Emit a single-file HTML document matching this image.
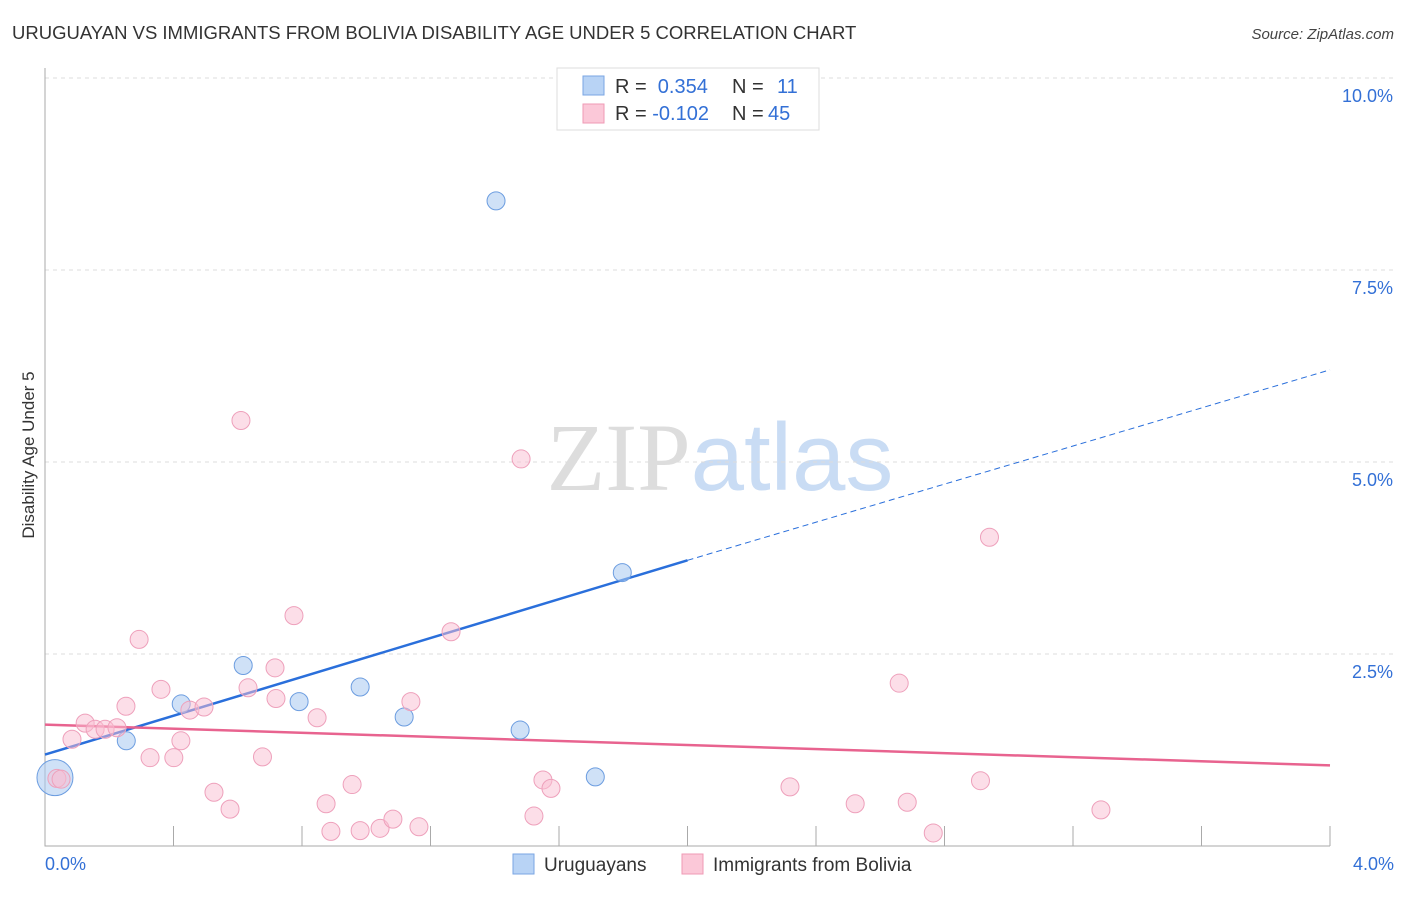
<!DOCTYPE html>
<html><head><meta charset="utf-8"><style>
body{margin:0;background:#fff;font-family:"Liberation Sans",sans-serif}
</style></head><body>
<svg id="chart" width="1406" height="892" xmlns="http://www.w3.org/2000/svg" font-family="Liberation Sans, sans-serif">
<text x="12" y="39" font-size="18.5" fill="#333">URUGUAYAN VS IMMIGRANTS FROM BOLIVIA DISABILITY AGE UNDER 5 CORRELATION CHART</text>
<text x="1394" y="39" font-size="15" fill="#444" text-anchor="end" font-style="italic">Source: ZipAtlas.com</text>
<text transform="translate(34,455) rotate(-90)" font-size="17" fill="#333" text-anchor="middle">Disability Age Under 5</text>
<text x="720" y="490" font-size="96" text-anchor="middle"><tspan fill="#ddd" font-family="Liberation Serif, serif">ZIP</tspan><tspan fill="#c9dcf4">atlas</tspan></text>
<g id="grid"></g><g id="axes"></g><g id="lines"></g><g id="pts"></g>
<g>
<rect x="557" y="68" width="262" height="62" fill="#fff" stroke="#ddd"/>
<rect x="583" y="76" width="21" height="19" fill="#b8d3f5" stroke="#7aa6e3"/>
<rect x="583" y="104" width="21" height="19" fill="#fbc8d8" stroke="#ef9ab5"/>
<text x="615" y="93" font-size="20" fill="#333">R = <tspan fill="#3370d6">&#160;0.354</tspan><tspan x="732">N = </tspan><tspan fill="#3370d6" x="777">11</tspan></text>
<text x="615" y="120" font-size="20" fill="#333">R = <tspan fill="#3370d6">-0.102</tspan><tspan x="732">N = </tspan><tspan fill="#3370d6" x="768">45</tspan></text>
</g>
<g>
<rect x="513" y="854" width="21" height="20" fill="#b8d3f5" stroke="#7aa6e3"/>
<text x="544" y="871" font-size="19" fill="#333">Uruguayans</text>
<rect x="682" y="854" width="21" height="20" fill="#fbc8d8" stroke="#ef9ab5"/>
<text x="713" y="871" font-size="19" fill="#333">Immigrants from Bolivia</text>
</g>
</svg>
<script>
const yTicks=[2.5,5.0,7.5,10.0];
const xTickLabels=["0.0%","4.0%"];
const blueX=[0.031,0.253,0.424,0.617,0.791,0.981,1.118,1.404,1.479,1.713,1.797];
const blueY=[0.89,1.37,1.85,2.35,1.88,2.07,1.68,8.40,1.51,0.90,3.56];
const pinkX=[0.037,0.050,0.084,0.125,0.156,0.187,0.224,0.252,0.293,0.327,0.361,0.401,0.423,0.451,0.495,0.526,0.576,0.610,0.632,0.677,0.716,0.719,0.775,0.847,0.875,0.890,0.956,0.981,1.043,1.083,1.139,1.164,1.264,1.482,1.522,1.550,1.575,2.319,2.522,2.659,2.684,2.765,2.912,2.940,3.287];
const pinkY=[0.88,0.87,1.39,1.60,1.52,1.52,1.54,1.82,2.69,1.15,2.04,1.15,1.37,1.77,1.81,0.70,0.48,5.54,2.06,1.16,2.32,1.92,3.00,1.67,0.55,0.19,0.80,0.20,0.23,0.35,1.88,0.25,2.79,5.04,0.39,0.86,0.75,0.77,0.55,2.12,0.57,0.17,0.85,4.02,0.47];
const blueBig=[18,9,9,9,9,9,9,9,9,9,9];
const blueLine=[0,1.19,2.0,3.72,4.0,6.2];
const pinkLine=[0,1.58,4.0,1.05];
const X=v=>45+v/4*1285, Y=v=>846-v/2.5*192;
const NS="http://www.w3.org/2000/svg";
function mk(p,t,a){const e=document.createElementNS(NS,t);for(const k in a)e.setAttribute(k,a[k]);document.getElementById(p).appendChild(e);return e;}
yTicks.forEach(t=>{
 const l=mk('grid','line',{x1:45,x2:1394,y1:Y(t),y2:Y(t),stroke:'#ddd','stroke-dasharray':'4,4'});
 
 
 const tx=mk('grid','text',{x:1393,y:Y(t)+24,'font-size':18,fill:'#3370d6','text-anchor':'end'});
 tx.textContent=t.toFixed(1)+'%';
 
 
});
const ax=mk('axes','path',{d:'M45 68V846H1330',stroke:'#aaa',fill:'none'});


for(let i=1;i<=10;i++){const t=mk('axes','line',{x1:X(i*0.4),x2:X(i*0.4),y1:826,y2:846,stroke:'#aaa'});
 
 }
xTickLabels.forEach((s,i)=>{const t=mk('axes','text',{x:i?1394:45,y:870,'font-size':18,fill:'#3370d6','text-anchor':i?'end':'start'});t.textContent=s;
 
 });
let b=mk('lines','line',{x1:X(blueLine[0]),y1:Y(blueLine[1]),x2:X(blueLine[2]),y2:Y(blueLine[3]),stroke:'#2a6fdb','stroke-width':2.5});


b=mk('lines','line',{x1:X(blueLine[2]),y1:Y(blueLine[3]),x2:X(blueLine[4]),y2:Y(blueLine[5]),stroke:'#2a6fdb','stroke-width':1,'stroke-dasharray':'6,4'});


b=mk('lines','line',{x1:X(pinkLine[0]),y1:Y(pinkLine[1]),x2:X(pinkLine[2]),y2:Y(pinkLine[3]),stroke:'#e8638f','stroke-width':2.5});


blueX.forEach((v,i)=>{const c=mk('pts','circle',{cx:X(v),cy:Y(blueY[i]),r:blueBig[i],fill:'rgba(168,200,240,0.55)',stroke:'#6c9de0'});
 
 });
pinkX.forEach((v,i)=>{const c=mk('pts','circle',{cx:X(v),cy:Y(pinkY[i]),r:9,fill:'rgba(250,190,210,0.5)',stroke:'#eea0bb'});
 
 });
</script>
</body></html>
